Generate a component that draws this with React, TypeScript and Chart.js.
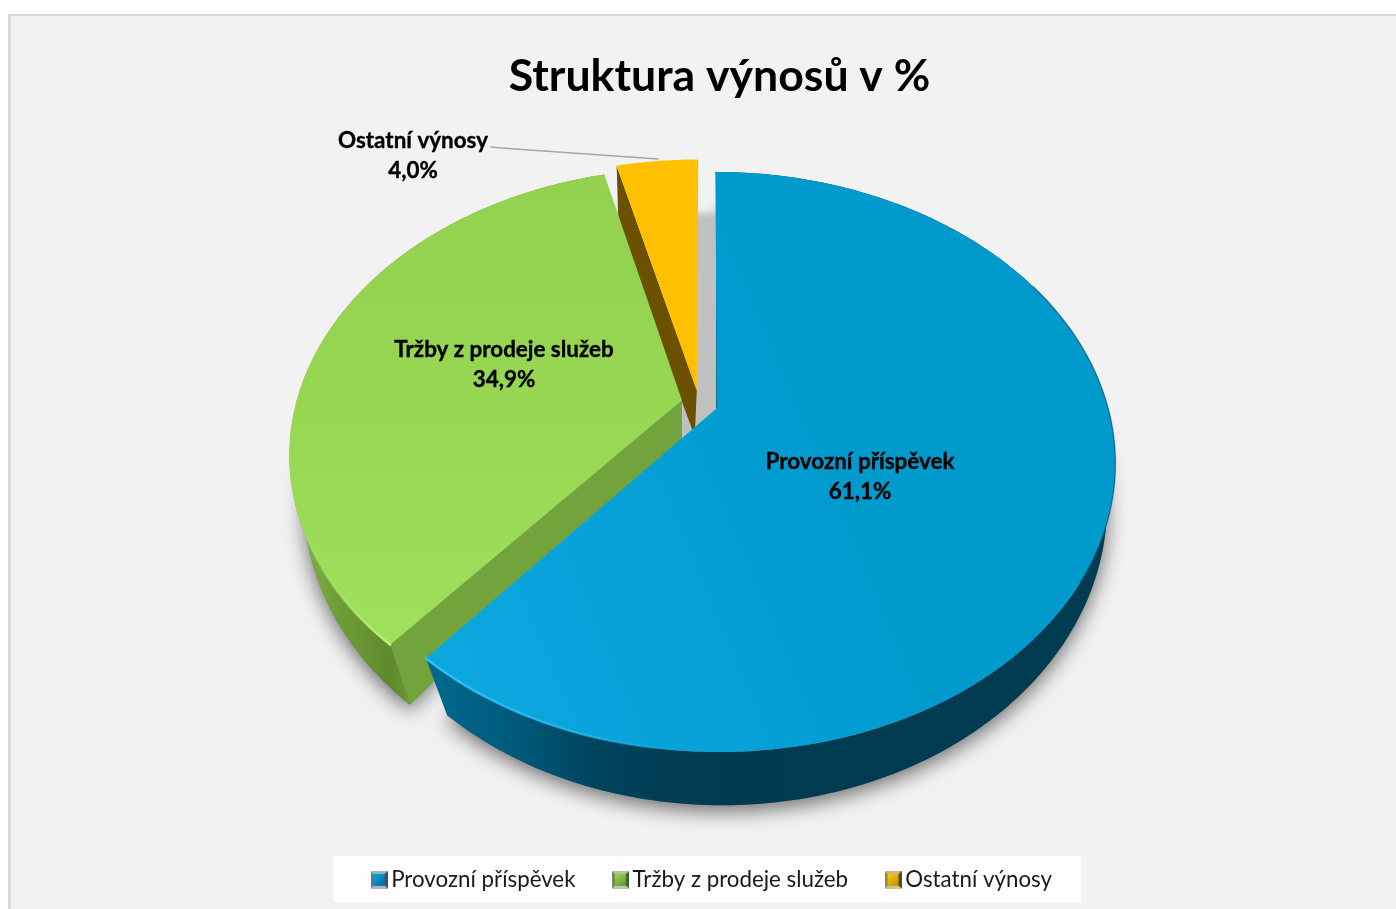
import React, { useEffect, useRef } from "react";
import { Chart, registerables } from "chart.js";

Chart.register(...registerables);

const categories = ["Provozní příspěvek", "Tržby z prodeje služeb", "Ostatní výnosy"];
const shares = [61.1, 34.9, 4.0];
const colours = ["#009ACD", "#94D451", "#FFC000"];
const chartTitle = "Struktura výnosů v %";

const FONT = "Lato, Carlito, Calibri, sans-serif";
const TOP = { x: 717, y: 408, a: 391, b: 280, k: 0.186, s: 2 };
const BOTTOM = { x: 722, y: 462, a: 381, b: 294, k: 0.1435, s: 0 };
// explosion of each slice, in units of the pie radius
const explode = [
  [0, 0],
  [-0.09, -0.028],
  [-0.052, -0.063],
];
const topRadius = [1, 0.99, 1];
const labelAt = [
  [860, 462],
  [504, 350],
  [413, 141],
];

type Face = typeof TOP;
type P = [number, number];

const project = (f: Face, u: number, v: number): P => {
  const w = 1 - f.k * v;
  return [f.x + (f.a * u + f.s * v) / w, f.y + (f.b * v) / w];
};

const arcPoints = (f: Face, start: number, end: number, e: number[], r: number): P[] => {
  const n = Math.max(2, Math.ceil(((end - start) * 180) / Math.PI));
  const pts: P[] = [];
  for (let i = 0; i <= n; i++) {
    const t = start + ((end - start) * i) / n;
    pts.push(project(f, r * Math.cos(t) + e[0], r * Math.sin(t) + e[1]));
  }
  return pts;
};

const fillPoly = (ctx: CanvasRenderingContext2D, pts: P[], fill: any) => {
  ctx.beginPath();
  pts.forEach((p, i) => (i ? ctx.lineTo(p[0], p[1]) : ctx.moveTo(p[0], p[1])));
  ctx.closePath();
  ctx.fillStyle = fill;
  ctx.fill();
};

const strokeLine = (ctx: CanvasRenderingContext2D, pts: P[], stroke: any, width: number) => {
  ctx.beginPath();
  pts.forEach((p, i) => (i ? ctx.lineTo(p[0], p[1]) : ctx.moveTo(p[0], p[1])));
  ctx.strokeStyle = stroke;
  ctx.lineWidth = width;
  ctx.lineCap = "round";
  ctx.stroke();
};

const xGradient = (ctx: CanvasRenderingContext2D, x0: number, x1: number, stops: [number, string][]) => {
  const g = ctx.createLinearGradient(x0, 0, x1, 0);
  stops.forEach(([s, c]) => g.addColorStop(s, c));
  return g;
};

const swatch = (light: string, dark: string, bevel: string[]) => {
  const c = document.createElement("canvas");
  c.width = 17;
  c.height = 18;
  const x = c.getContext("2d")!;
  const tri = (pts: number[][], col: string) => {
    x.beginPath();
    pts.forEach((p, i) => (i ? x.lineTo(p[0], p[1]) : x.moveTo(p[0], p[1])));
    x.closePath();
    x.fillStyle = col;
    x.fill();
  };
  tri([[0, 0], [17, 0], [14, 3], [3, 3]], bevel[0]);
  tri([[17, 0], [17, 18], [14, 15], [14, 3]], bevel[1]);
  tri([[0, 18], [17, 18], [14, 15], [3, 15]], bevel[2]);
  tri([[0, 0], [0, 18], [3, 15], [3, 3]], bevel[3]);
  const g = x.createLinearGradient(3, 3, 12, 15);
  g.addColorStop(0, light);
  g.addColorStop(1, dark);
  x.fillStyle = g;
  x.fillRect(3, 3, 11, 12);
  return c;
};

const piePlugin = {
  id: "perspectivePie",
  beforeDraw(chart: any) {
    const ctx = chart.ctx as CanvasRenderingContext2D;
    ctx.save();
    ctx.fillStyle = "#ffffff";
    ctx.fillRect(0, 0, 1396, 909);
    ctx.fillStyle = "#d9d9d9";
    ctx.fillRect(8, 14, 1388, 895);
    ctx.fillStyle = "#f2f2f2";
    ctx.fillRect(11, 16, 1385, 893);
    ctx.fillStyle = "#fdfdfd";
    ctx.fillRect(333, 856, 748, 46);
    ctx.restore();
  },
  beforeDatasetsDraw(chart: any) {
    const ctx = chart.ctx as CanvasRenderingContext2D;
    const arcs = chart.getDatasetMeta(0).data;
    const range = (i: number) => [arcs[i].startAngle, arcs[i].endAngle];

    const topArc = (i: number) => arcPoints(TOP, range(i)[0], range(i)[1], explode[i], topRadius[i]);
    const botArc = (i: number) => arcPoints(BOTTOM, range(i)[0], range(i)[1], explode[i], 1);
    const apex = (i: number) => project(TOP, explode[i][0], explode[i][1]);

    ctx.save();

    // soft shadow below the pie
    ctx.save();
    ctx.shadowColor = "rgba(0,0,0,0.55)";
    ctx.shadowBlur = 20;
    ctx.shadowOffsetY = 6;
    [1, 0].forEach((i) => {
      fillPoly(ctx, [apex(i), ...botArc(i)], "#777777");
    });
    ctx.restore();

    // grey shadow in the gap next to the small slice
    ctx.save();
    ctx.filter = "blur(3px)";
    fillPoly(ctx, [[685, 213], [722, 213], [722, 440], [670, 440]], "#c0c0c0");
    ctx.restore();
    fillPoly(ctx, [[680, 420], [718, 405], [718, 440], [680, 440]], "#c0c0c0");

    // small slice
    {
      const t = topArc(2);
      const ap = apex(2);
      const first = t[0];
      fillPoly(ctx, [first, ap, [ap[0] - 2, ap[1] + 46], [first[0] + 2, first[1] + 64]], "#6b5000");
      fillPoly(ctx, [ap, ...t], colours[2]);
    }

    // middle slice
    {
      const t = topArc(1);
      const b = botArc(1);
      const ap = apex(1);
      fillPoly(
        ctx,
        [...t, ...[...b].reverse()],
        xGradient(ctx, 285, 410, [
          [0, "#86bd47"],
          [0.4, "#6f9f38"],
          [0.85, "#5e892d"],
          [1, "#6a9a34"],
        ])
      );
      fillPoly(ctx, [t[0], ap, [ap[0], ap[1] + 41], b[0]], "#72a33c");
      const g = ctx.createLinearGradient(0, 172, 0, 650);
      g.addColorStop(0, "#93d14f");
      g.addColorStop(0.5, "#97d752");
      g.addColorStop(1, "#a0e05c");
      fillPoly(ctx, [ap, ...t], g);
      strokeLine(
        ctx,
        t.slice(0, 42),
        xGradient(ctx, 300, 392, [
          [0, "rgba(185,242,112,0)"],
          [0.6, "rgba(185,242,112,0.7)"],
          [1, "#bdf575"],
        ]),
        2.5
      );
    }

    // large slice
    {
      const t = topArc(0);
      const b = botArc(0);
      const ap = apex(0);
      fillPoly(
        ctx,
        [...t, ...[...b].reverse()],
        xGradient(ctx, 440, 1114, [
          [0, "#00688d"],
          [0.12, "#005878"],
          [0.24, "#00425c"],
          [0.42, "#003a50"],
          [1, "#003c52"],
        ])
      );
      strokeLine(ctx, [[716.5, 222], [716.5, 408]], "#0a6a8a", 1);
      const g = ctx.createLinearGradient(432, 657, 850, 480);
      g.addColorStop(0, "#0ba8df");
      g.addColorStop(0.55, "#07a0d7");
      g.addColorStop(1, "#009acd");
      fillPoly(ctx, [ap, ...t], g);
      strokeLine(ctx, t.slice(62, 125), "rgba(0,80,115,0.55)", 1.5);
      const n = t.length;
      strokeLine(
        ctx,
        t.slice(n - 52, n),
        xGradient(ctx, 432, 680, [
          [0, "#2cc0f5"],
          [0.6, "rgba(44,192,245,0.7)"],
          [1, "rgba(44,192,245,0)"],
        ]),
        2.5
      );
    }

    // value labels and leader line
    ctx.font = `bold 22.4px ${FONT}`;
    ctx.fillStyle = "#000000";
    ctx.strokeStyle = "#000000";
    ctx.lineWidth = 0.35;
    ctx.textAlign = "center";
    ctx.textBaseline = "middle";
    shares.forEach((value, i) => {
      const pct = value.toFixed(1).replace(".", ",") + "%";
      ctx.fillText(categories[i], labelAt[i][0], labelAt[i][1]);
      ctx.strokeText(categories[i], labelAt[i][0], labelAt[i][1]);
      ctx.fillText(pct, labelAt[i][0], labelAt[i][1] + 30);
      ctx.strokeText(pct, labelAt[i][0], labelAt[i][1] + 30);
    });
    strokeLine(ctx, [[491, 147], [501, 148], [658, 159]], "#a6a6a6", 1.5);

    ctx.restore();
    return false;
  },
  afterLayout(chart: any) {
    // the title sits a little right of the legend
    const t = chart.titleBlock;
    if (t) {
      t.left += 4.5;
      t.right += 4.5;
    }
  },
};

export default function App() {
  const ref = useRef<HTMLCanvasElement>(null);
  useEffect(() => {
    const swatches = [
      swatch("#08a8e0", "#006f9e", ["#9fb4bd", "#3d5560", "#a9b8be", "#5f7a86"]),
      swatch("#9ada58", "#5f9a2e", ["#b4c49e", "#4d6030", "#bcc8a8", "#76895a"]),
      swatch("#ffcc10", "#c49400", ["#c8b880", "#584820", "#d0c490", "#97864a"]),
    ];
    const chart = new Chart(ref.current!, {
      type: "pie",
      data: {
        labels: categories,
        datasets: [{ data: shares, backgroundColor: colours, borderWidth: 0 }],
      },
      plugins: [piePlugin],
      options: {
        animation: false,
        responsive: false,
        layout: { padding: { left: 34, right: 0, top: 0, bottom: 8 } },
        plugins: {
          tooltip: { enabled: false },
          title: {
            display: true,
            text: chartTitle,
            color: "#000000",
            font: { family: FONT, size: 44.6, weight: "bold" },
            padding: { top: 50, bottom: 10 },
          },
          legend: {
            position: "bottom",
            labels: {
              color: "#1a1a1a",
              font: { family: FONT, size: 22.3 },
              usePointStyle: true,
              pointStyleWidth: 2,
              padding: 44,
              generateLabels: () =>
                categories.map((text, i) => ({
                  text,
                  fillStyle: colours[i],
                  strokeStyle: colours[i],
                  lineWidth: 0,
                  pointStyle: swatches[i],
                  hidden: false,
                  index: i,
                  fontColor: "#1a1a1a",
                })),
            },
          },
        },
      },
    } as any);
    return () => chart.destroy();
  }, []);
  return (
    <div style={{ position: "fixed", left: 0, top: 0, width: 1396, height: 909, overflow: "hidden" }}>
      <canvas ref={ref} width={1396} height={909} style={{ display: "block" }} />
    </div>
  );
}
